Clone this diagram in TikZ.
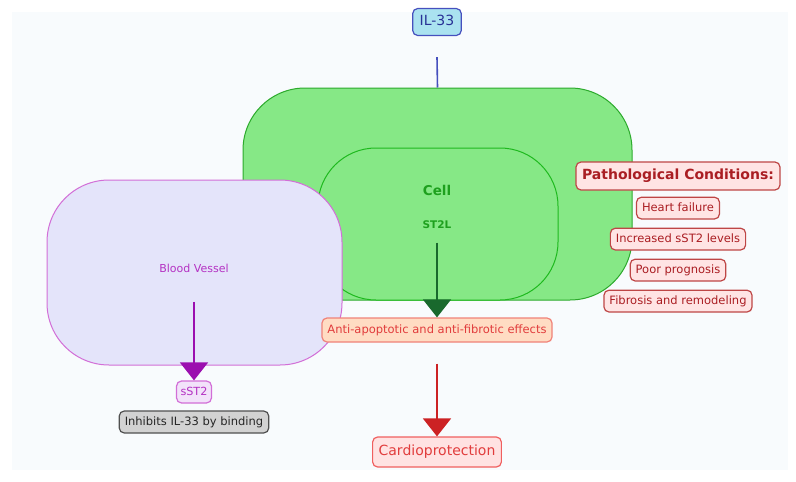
\documentclass[tikz,border=0pt]{standalone}
\usepackage{fontspec}
\setmainfont{DejaVu Sans}
\usepackage{tikz}
\usetikzlibrary{arrows.meta,positioning}
\definecolor{bgpale}{RGB}{248,251,253}
\definecolor{cellgreen}{RGB}{134,232,134}
\definecolor{cellline}{RGB}{44,170,44}
\definecolor{innerline}{RGB}{30,185,30}
\definecolor{celltext}{RGB}{30,160,30}
\definecolor{ilfill}{RGB}{170,226,240}
\definecolor{illine}{RGB}{70,80,190}
\definecolor{iltext}{RGB}{40,50,150}
\definecolor{vesselfill}{RGB}{228,228,250}
\definecolor{vesselline}{RGB}{210,110,215}
\definecolor{vesseltext}{RGB}{180,50,195}
\definecolor{sstfill}{RGB}{242,226,250}
\definecolor{violetarrow}{RGB}{155,15,175}
\definecolor{darkgreen}{RGB}{25,105,45}
\definecolor{peach}{RGB}{255,220,195}
\definecolor{peachline}{RGB}{240,130,120}
\definecolor{redtext}{RGB}{225,60,60}
\definecolor{redarrow}{RGB}{195,40,42}
\definecolor{cardiofill}{RGB}{255,226,226}
\definecolor{cardioline}{RGB}{240,95,95}
\definecolor{condfill}{RGB}{255,228,228}
\definecolor{condline}{RGB}{190,70,70}
\definecolor{condtext}{RGB}{170,30,35}
\definecolor{grayfill}{RGB}{210,210,210}
\definecolor{grayline}{RGB}{80,80,80}
\tikzstyle{blob} = [rectangle, rounded corners=62pt, line width=1pt, inner sep=0pt]
\tikzstyle{tag} = [rectangle, rounded corners=5pt, draw, line width=1.2pt,
    inner xsep=5.5pt, inner ysep=5pt, text height=9pt, text depth=2.8pt,
    font=\fontsize{11.5}{13}\selectfont]
\tikzstyle{cond} = [tag, fill=condfill, draw=condline, text=condtext]
\tikzstyle{bigarrow} = [line width=1.6pt, -{Triangle[width=28pt,length=18pt]}]

\begin{document}
\begin{tikzpicture}[x=1pt, y=-1pt, node distance=8pt]
\useasboundingbox (0,0) rectangle (796,482);
\fill[bgpale] (12,12) rectangle (788,470);
% Cell
\node[blob, fill=cellgreen, draw=cellline, minimum width=389pt, minimum height=212pt] (cell) at (437.5,194) {};
\node[blob, fill=cellgreen, draw=innerline, minimum width=240pt, minimum height=152pt, rounded corners=58pt] (cellin) at (438,224) {};
\node[font=\fontsize{13.5}{15}\selectfont\bfseries, text=celltext] (celllbl) at (437,190) {Cell};
\node[font=\fontsize{10.5}{12}\selectfont\bfseries, text=celltext] (st2l) at (437,225) {ST2L};
% Blood vessel
\node[blob, fill=vesselfill, draw=vesselline, minimum width=295pt, minimum height=185pt] (vessel) at (194.5,272.5) {};
\node[font=\fontsize{11}{12}\selectfont, text=vesseltext] (vessellbl) at (194,268) {Blood Vessel};
% IL-33
\node[tag, fill=ilfill, draw=illine, text=iltext, font=\fontsize{14}{16}\selectfont, inner xsep=7pt, minimum height=27pt] (il33) at (437,22) {IL-33};
% Effects
\node[tag, fill=peach, draw=peachline, text=redtext, minimum height=24pt] (anti) at (437,330) {Anti-apoptotic and anti-fibrotic effects};
\node[tag, fill=cardiofill, draw=cardioline, text=redtext, font=\fontsize{14}{16}\selectfont, inner xsep=6pt, minimum height=30pt] (cardio) at (437,452) {Cardioprotection};
% Soluble ST2
\node[tag, fill=sstfill, draw=vesselline, text=vesseltext, font=\fontsize{11.2}{12}\selectfont, inner xsep=4pt, minimum height=22pt] (sst2) at (194,392) {sST2};
\node[tag, fill=grayfill, draw=grayline, text=black!85, minimum height=22pt] (inhib) at (194,422) {Inhibits IL-33 by binding};
% Pathological conditions
\node[cond, font=\fontsize{14}{16}\selectfont\bfseries, inner xsep=6pt, minimum height=28pt, text height=10.5pt, text depth=3.3pt] (patho) at (678,176) {Pathological Conditions:};
\node[cond, below=6pt of patho] (hf) {Heart failure};
\node[cond, below=of hf] (sstlvl) {Increased sST2 levels};
\node[cond, below=of sstlvl] (prog) {Poor prognosis};
\node[cond, below=of prog] (fib) {Fibrosis and remodeling};
% Arrows
\draw[illine, line width=1.6pt] ([yshift=-21pt]il33.south) -- (cell.north);
\draw[bigarrow, darkgreen] ([yshift=-10pt]st2l.south) -- (anti.north);
\draw[bigarrow, violetarrow] ([yshift=-26pt]vessellbl.south) -- (sst2.north);
\draw[bigarrow, redarrow!85!red] ([yshift=-21pt]anti.south) -- (cardio.north);
\end{tikzpicture}
\end{document}
